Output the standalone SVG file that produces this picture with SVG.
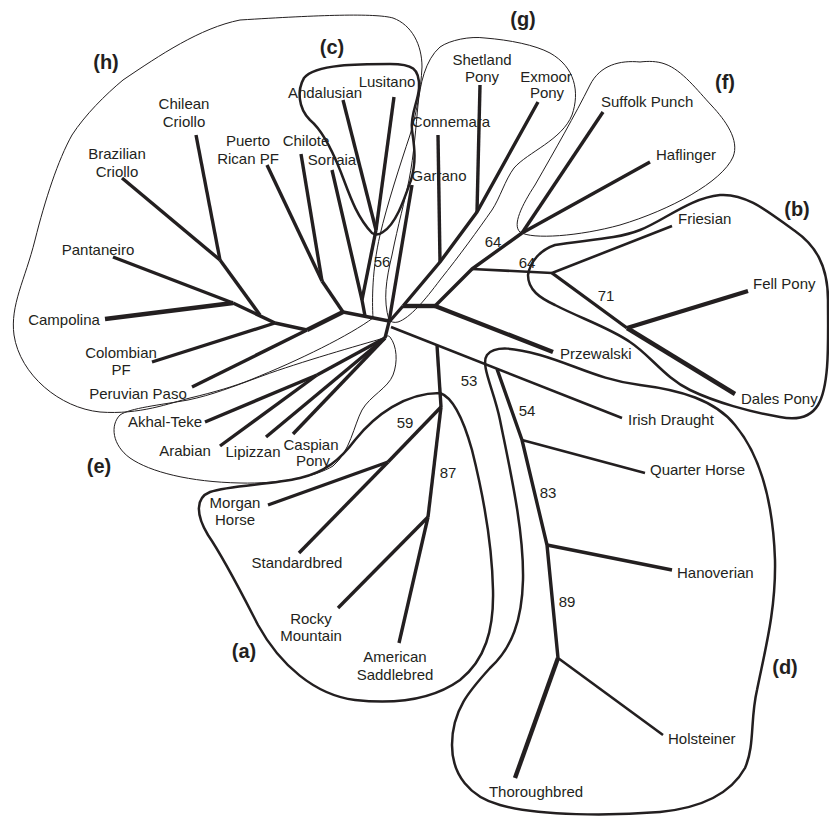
<svg xmlns="http://www.w3.org/2000/svg" width="829" height="816" viewBox="0 0 829 816">
<style>
.bg{fill:#fff}
.br{stroke:#231f20;stroke-width:3.4;fill:none;stroke-linecap:butt;stroke-linejoin:round}
.bw{stroke-width:4.4}
.bn{stroke-width:2.6}
.ot{stroke:#231f20;stroke-width:2.5;fill:none}
.on{stroke:#231f20;stroke-width:1;fill:none}
text{font-family:"Liberation Sans",Arial,sans-serif;font-size:15px;fill:#231f20}
.m{text-anchor:middle}
.g{font-size:20px;font-weight:bold;text-anchor:middle}
</style>
<rect class="bg" width="829" height="816"/>

<g id="clades">
  <path id="clade-h" class="on" d="M373,318 C372,300 372,270 380,235 C387,205 400,165 410,135 C416,115 421,90 422,67 C422,45 412,25 393,18 C375,13 320,15 240,20 C200,28 160,55 123,80 C105,95 85,115 72,135 C58,160 45,200 35,240 C25,280 10,305 14,335 C20,375 60,408 100,412 C140,415 170,403 190,398 C215,392 235,386 250,380 C300,360 350,335 373,318 Z"/>
  <path id="clade-g" class="on" d="M389,320 C383,300 386,280 392,255 C398,225 405,200 409,180 C414,155 416,125 418,105 C420,85 425,60 440,47 C450,40 470,36 485,38 C510,40 535,45 550,53 C575,67 580,92 572,115 C562,140 528,152 514,168 C505,180 500,198 492,210 C478,230 460,255 440,280 C425,300 410,318 398,322 C394,323 391,322 389,320 Z"/>
  <path id="clade-f" class="on" d="M640,62 C620,60 600,65 590,85 C575,115 555,150 535,185 C522,205 512,225 520,232 C532,240 580,236 620,225 C670,210 722,182 733,157 C740,140 725,120 712,106 C697,90 682,70 665,64 C657,61 648,61 640,62 Z"/>
  <path id="clade-e" class="on" d="M384,338 C360,345 300,362 262,376 C232,387 212,395 188,400 C160,405 130,408 120,415 C110,425 112,445 130,458 C150,472 190,482 240,483 C280,484 315,477 333,466 C350,452 354,425 362,410 C370,396 388,388 393,375 C398,362 397,346 390,337 C388,335 386,336 384,338 Z"/>
  <path id="clade-c" class="ot" d="M372,233 C355,215 348,190 340,170 C332,150 322,130 310,120 C298,108 297,90 304,78 C315,64 360,64 390,64 C412,64 420,68 419,88 C418,102 410,115 412,130 C414,145 417,160 411,180 C404,200 396,224 383,232 C379,235 375,235 372,233 Z"/>
  <path id="clade-b" class="ot" d="M528,275 C530,262 540,250 555,245 C580,240 615,240 640,230 C665,220 690,198 720,195 C748,193 772,215 795,231 C815,245 828,265 828,300 C828,340 830,385 818,405 C810,418 795,420 780,417 C750,412 715,402 690,390 C665,378 650,355 630,342 C610,328 580,318 555,305 C540,298 528,290 528,275 Z"/>
  <path id="clade-d" class="ot" d="M487,355 C495,345 515,348 540,355 C575,365 600,380 640,385 C680,390 715,400 735,425 C760,455 773,500 775,560 C776,610 765,650 757,690 C750,720 755,745 745,768 C730,795 700,808 660,812 C610,816 540,816 500,805 C470,797 452,775 452,745 C452,710 470,690 490,668 C512,648 522,620 523,580 C524,530 510,470 500,420 C494,390 480,365 487,355 Z"/>
  <path id="clade-a" class="ot" d="M440,393 C455,398 465,425 472,450 C482,490 492,540 493,590 C494,630 485,660 460,680 C435,698 400,705 355,700 C315,695 280,665 258,625 C240,590 225,560 208,535 C196,515 195,498 210,492 C230,485 270,485 300,478 C325,472 340,460 355,440 C375,415 405,393 440,393 Z"/>
</g>

<g id="connectors">
  <path class="br" d="M389,322 L403,306"/>
  <path class="br bw" d="M403,306 L435,306"/>
  <path class="br" d="M343,312 L389,321"/>
  <path class="br" d="M385,338 L389,322"/>
  <path class="br" d="M403,306 L440,262 L477,212 L538,102"/>
  <path class="br" d="M477,212 L480,85"/>
  <path class="br" d="M440,262 L438,135"/>
  <path class="br" d="M389,322 L412,185"/>
  <path class="br" d="M435,306 L472,269 L522,233"/>
  <path class="br" d="M522,233 L603,112"/>
  <path class="br" d="M522,233 L650,162"/>
  <path class="br bn" d="M472,269 L552,273"/>
  <path class="br bn" d="M552,273 L672,226"/>
  <path class="br" d="M552,273 L627,328"/>
  <path class="br bw" d="M627,328 L748,291"/>
  <path class="br bw" d="M627,328 L735,394"/>
  <path class="br bw" d="M435,306 L553,352"/>
  <path class="br bn" d="M391,327 L622,418"/>
  <path class="br" d="M497,369 L522,440 L547,545 L558,658"/>
  <path class="br bn" d="M522,440 L645,473"/>
  <path class="br" d="M547,545 L672,570"/>
  <path class="br bn" d="M558,658 L663,735"/>
  <path class="br bw" d="M558,658 L515,778"/>
  <path class="br" d="M437,345 L441,407"/>
  <path class="br" d="M441,407 L388,462"/>
  <path class="br" d="M388,462 L268,505"/>
  <path class="br" d="M388,462 L299,553"/>
  <path class="br" d="M441,407 L428,517"/>
  <path class="br" d="M428,517 L338,608"/>
  <path class="br" d="M428,517 L399,643"/>
  <path class="br" d="M343,100 L376,230"/>
  <path class="br" d="M394,97 L376,230"/>
  <path class="br" d="M376,230 L362,300"/>
  <path class="br" d="M332,170 L362,300 L365,316"/>
  <path class="br" d="M343,312 L322,281"/>
  <path class="br" d="M322,281 L267,165"/>
  <path class="br" d="M322,281 L301,154"/>
  <path class="br bw" d="M343,312 L307,330"/>
  <path class="br" d="M307,330 L192,387"/>
  <path class="br" d="M307,330 L275,323"/>
  <path class="br" d="M275,323 L152,362"/>
  <path class="br" d="M275,323 L233,303"/>
  <path class="br" d="M260,315 L220,260"/>
  <path class="br" d="M220,260 L196,135"/>
  <path class="br" d="M220,260 L122,178"/>
  <path class="br" d="M233,303 L113,257"/>
  <path class="br bw" d="M233,303 L105,319"/>
  <path class="br" d="M385,338 L317,375"/>
  <path class="br" d="M317,375 L205,422"/>
  <path class="br" d="M317,375 L220,446"/>
  <path class="br" d="M385,338 L266,437"/>
  <path class="br" d="M385,338 L293,434"/>
</g>

<g id="support">
  <text class="m" x="382" y="267">56</text>
  <text class="m" x="493" y="247">64</text>
  <text class="m" x="527" y="268">64</text>
  <text class="m" x="606" y="301">71</text>
  <text class="m" x="469" y="386">53</text>
  <text class="m" x="527" y="416">54</text>
  <text class="m" x="548" y="498">83</text>
  <text class="m" x="567" y="607">89</text>
  <text class="m" x="405" y="428">59</text>
  <text class="m" x="448" y="478">87</text>
</g>

<g id="group-labels">
  <text class="g" x="106" y="69">(h)</text>
  <text class="g" x="332" y="54">(c)</text>
  <text class="g" x="523" y="26">(g)</text>
  <text class="g" x="725" y="89">(f)</text>
  <text class="g" x="797" y="216">(b)</text>
  <text class="g" x="99" y="473">(e)</text>
  <text class="g" x="244" y="658">(a)</text>
  <text class="g" x="785" y="674">(d)</text>
</g>

<g id="Andalusian"><text class="m" x="325" y="98">Andalusian</text></g>
<g id="Lusitano"><text class="m" x="387" y="87">Lusitano</text></g>
<g id="ChileanCriollo"><text class="m" x="184" y="109">Chilean</text><text class="m" x="184" y="127">Criollo</text></g>
<g id="PuertoRicanPF"><text class="m" x="248" y="146">Puerto</text><text class="m" x="248" y="164">Rican PF</text></g>
<g id="Chilote"><text class="m" x="306" y="146">Chilote</text></g>
<g id="Sorraia"><text class="m" x="332" y="165">Sorraia</text></g>
<g id="BrazilianCriollo"><text class="m" x="117" y="159">Brazilian</text><text class="m" x="117" y="177">Criollo</text></g>
<g id="Pantaneiro"><text class="m" x="98" y="255">Pantaneiro</text></g>
<g id="Campolina"><text class="m" x="64" y="325">Campolina</text></g>
<g id="ColombianPF"><text class="m" x="121" y="358">Colombian</text><text class="m" x="121" y="375">PF</text></g>
<g id="PeruvianPaso"><text class="m" x="138" y="399">Peruvian Paso</text></g>
<g id="AkhalTeke"><text class="m" x="165" y="427">Akhal-Teke</text></g>
<g id="Arabian"><text class="m" x="185" y="456">Arabian</text></g>
<g id="Lipizzan"><text class="m" x="253" y="457">Lipizzan</text></g>
<g id="CaspianPony"><text class="m" x="311" y="450">Caspian</text><text class="m" x="313" y="466">Pony</text></g>
<g id="MorganHorse"><text class="m" x="235" y="508">Morgan</text><text class="m" x="235" y="525">Horse</text></g>
<g id="Standardbred"><text class="m" x="297" y="568">Standardbred</text></g>
<g id="RockyMountain"><text class="m" x="311" y="624">Rocky</text><text class="m" x="311" y="641">Mountain</text></g>
<g id="AmericanSaddlebred"><text class="m" x="395" y="662">American</text><text class="m" x="395" y="680">Saddlebred</text></g>
<g id="Connemara"><text class="m" x="451" y="127">Connemara</text></g>
<g id="Garrano"><text class="m" x="439" y="181">Garrano</text></g>
<g id="ShetlandPony"><text class="m" x="482" y="65">Shetland</text><text class="m" x="482" y="82">Pony</text></g>
<g id="ExmoorPony"><text class="m" x="546" y="82">Exmoor</text><text class="m" x="547" y="98">Pony</text></g>
<g id="SuffolkPunch"><text x="601" y="107">Suffolk Punch</text></g>
<g id="Haflinger"><text x="656" y="160">Haflinger</text></g>
<g id="Friesian"><text x="678" y="224">Friesian</text></g>
<g id="FellPony"><text x="753" y="289">Fell Pony</text></g>
<g id="Przewalski"><text x="560" y="359">Przewalski</text></g>
<g id="DalesPony"><text x="741" y="404">Dales Pony</text></g>
<g id="IrishDraught"><text x="628" y="425">Irish Draught</text></g>
<g id="QuarterHorse"><text x="650" y="475">Quarter Horse</text></g>
<g id="Hanoverian"><text x="677" y="578">Hanoverian</text></g>
<g id="Holsteiner"><text x="668" y="744">Holsteiner</text></g>
<g id="Thoroughbred"><text class="m" x="536" y="797">Thoroughbred</text></g>
</svg>
